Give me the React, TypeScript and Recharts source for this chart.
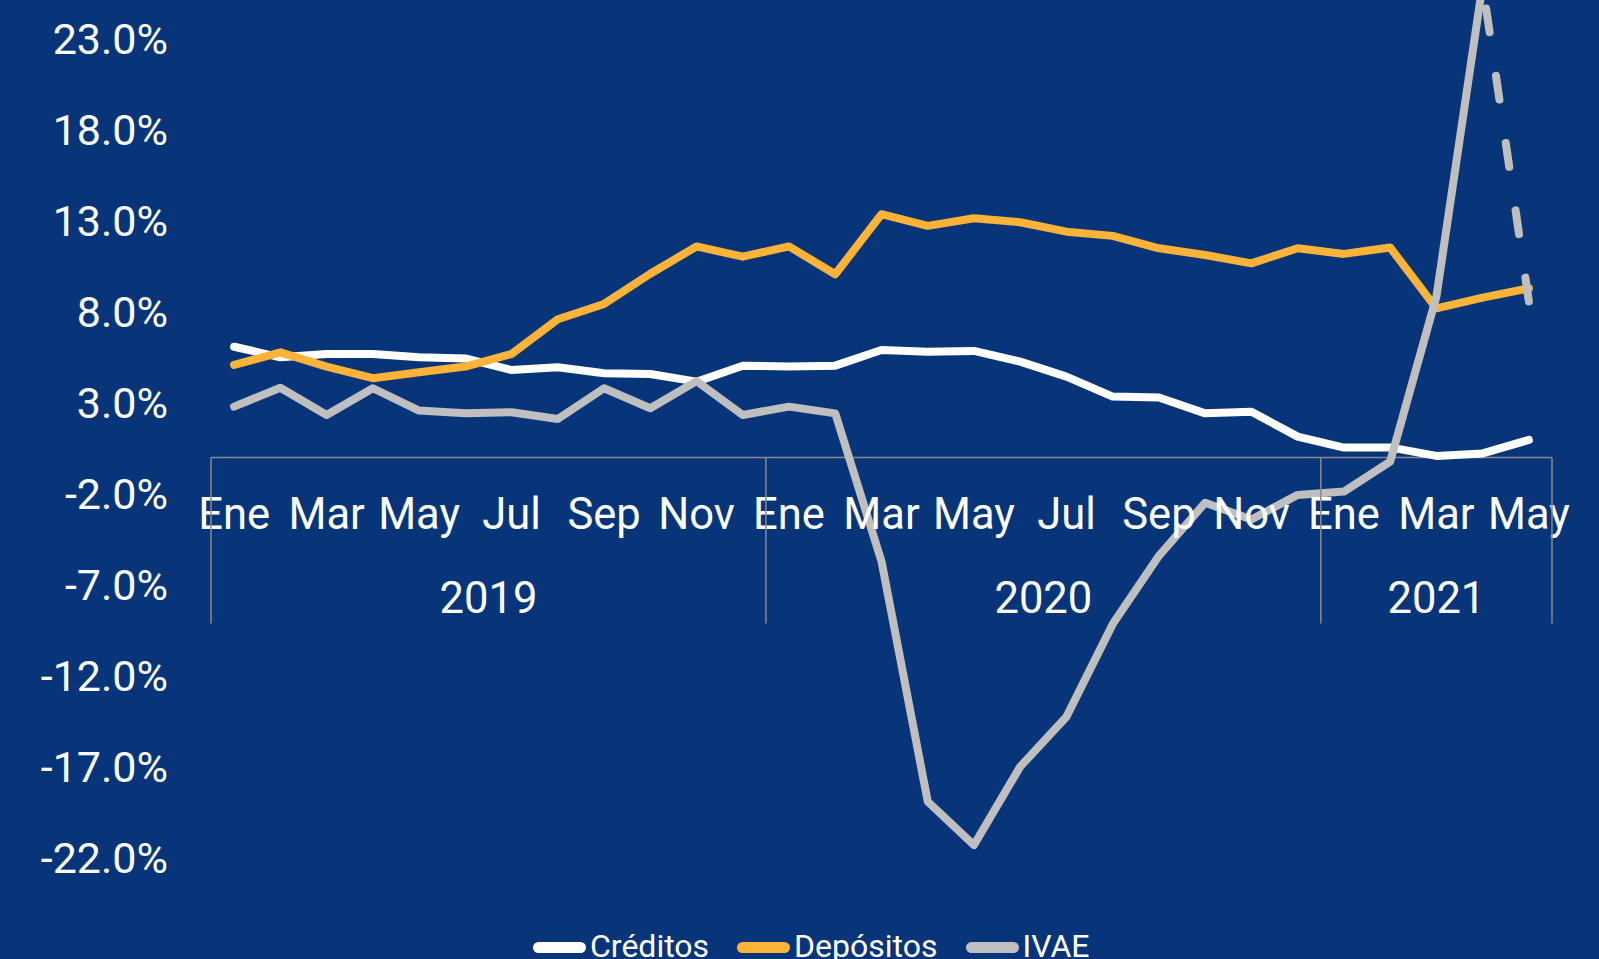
import React from 'react';
import { LineChart, Line, XAxis, YAxis, ReferenceLine, Legend } from 'recharts';

// meses de ene-2019 a may-2021
const categories = [
  'Ene 2019', 'Feb 2019', 'Mar 2019', 'Abr 2019', 'May 2019', 'Jun 2019',
  'Jul 2019', 'Ago 2019', 'Sep 2019', 'Oct 2019', 'Nov 2019', 'Dic 2019',
  'Ene 2020', 'Feb 2020', 'Mar 2020', 'Abr 2020', 'May 2020', 'Jun 2020',
  'Jul 2020', 'Ago 2020', 'Sep 2020', 'Oct 2020', 'Nov 2020', 'Dic 2020',
  'Ene 2021', 'Feb 2021', 'Mar 2021', 'Abr 2021', 'May 2021',
];

const creditos = [
  6.09, 5.51, 5.69, 5.69, 5.51, 5.45, 4.81, 4.96, 4.63, 4.59, 4.17, 5.05,
  5.0, 5.05, 5.91, 5.82, 5.86, 5.27, 4.45, 3.35, 3.3, 2.43, 2.52, 1.15,
  0.55, 0.56, 0.09, 0.23, 0.97,
];

const depositos = [
  5.09, 5.78, 5.0, 4.36, 4.69, 5.0, 5.69, 7.6, 8.44, 10.1, 11.6, 11.04,
  11.6, 10.07, 13.37, 12.73, 13.15, 12.93, 12.41, 12.18, 11.5, 11.13, 10.67, 11.5,
  11.19, 11.54, 8.2, 8.79, 9.3,
];

const ivae = [
  2.8, 3.84, 2.34, 3.81, 2.58, 2.43, 2.49, 2.12, 3.81, 2.71, 4.2, 2.34,
  2.8, 2.43, -5.7, -18.9, -21.29, -16.98, -14.24, -9.15, -5.4, -2.48, -3.4, -2.05,
  -1.87, -0.22, 8.84, 26.0, null,
];

// tramo proyectado (punteado)
const ivaeProy = [
  null, null, null, null, null, null, null, null, null, null, null, null,
  null, null, null, null, null, null, null, null, null, null, null, null,
  null, null, null, 26.0, 8.57,
];

const yTicks = [-22, -17, -12, -7, -2, 3, 8, 13, 18, 23];

const data = categories.map((cat, i) => ({
  cat,
  creditos: creditos[i],
  depositos: depositos[i],
  ivae: ivae[i],
  ivaeProy: ivaeProy[i],
}));

const W = 1599;
const H = 959;
const Y_AXIS_W = 211;
const RIGHT = 47;
const X_AXIS_H = 101;
const Y_MIN = -22;
const Y_MAX = 25.14;
const PLOT_W = W - Y_AXIS_W - RIGHT;
const PLOT_H = H - X_AXIS_H;
const BAND = PLOT_W / categories.length;
const ZERO_Y = (PLOT_H * Y_MAX) / (Y_MAX - Y_MIN);

const BG = '#08357a';
const GRID = '#8a8a8a';
const FONT = 'Roboto, sans-serif';

function MonthTick(props: any) {
  const { x, payload } = props;
  const i: number = props.index ?? payload.index;
  const [mes, anio] = categories[i].split(' ');
  const yearIdx = categories.map((c, k) => (c.endsWith(anio) ? k : -1)).filter((k) => k >= 0);
  const first = yearIdx[0];
  const count = yearIdx.length;
  return (
    <g>
      {i % 2 === 0 && (
        <text x={x} y={ZERO_Y + 71} textAnchor="middle" fill="#fff" fontSize={43.5} fontFamily={FONT}>
          {mes}
        </text>
      )}
      {i === first && (
        <>
          <line x1={x - BAND / 2} x2={x - BAND / 2} y1={ZERO_Y} y2={ZERO_Y + 166} stroke={GRID} strokeWidth={1.5} />
          <text
            x={x + ((count - 1) / 2) * BAND}
            y={ZERO_Y + 155}
            textAnchor="middle"
            fill="#fff"
            fontSize={43.5}
            fontFamily={FONT}
          >
            {anio}
          </text>
        </>
      )}
      {i === categories.length - 1 && (
        <line x1={x + BAND / 2} x2={x + BAND / 2} y1={ZERO_Y} y2={ZERO_Y + 166} stroke={GRID} strokeWidth={1.5} />
      )}
    </g>
  );
}

function renderLegend(props: any) {
  const items = (props.payload || []).filter((p: any) => p.type !== 'none');
  return (
    <div style={{ display: 'flex', alignItems: 'flex-start' }}>
      {items.map((p: any) => (
        <div key={p.value} style={{ display: 'flex', alignItems: 'flex-start', marginRight: 28 }}>
          <div style={{ width: 53, height: 11, borderRadius: 6, background: p.color, marginTop: 12, marginRight: 4 }} />
          <span style={{ color: '#fff', fontSize: 32, lineHeight: '32px', fontFamily: FONT }}>{p.value}</span>
        </div>
      ))}
    </div>
  );
}

export default function App() {
  return (
    <div style={{ position: 'absolute', left: 0, top: 0, width: W, height: H, background: BG, overflow: 'hidden' }}>
      <LineChart width={W} height={H} data={data} margin={{ top: 0, right: RIGHT, bottom: 0, left: 0 }}>
        <YAxis
          width={Y_AXIS_W}
          domain={[Y_MIN, Y_MAX]}
          allowDataOverflow
          ticks={yTicks}
          interval={0}
          axisLine={false}
          tickLine={false}
          tickSize={0}
          tickMargin={43}
          tick={{ fill: '#fff', fontSize: 43, fontFamily: FONT }}
          tickFormatter={(v: number) => `${v.toFixed(1)}%`}
        />
        <ReferenceLine y={0} stroke={GRID} strokeWidth={1.5} />
        <Line
          dataKey="creditos"
          name="Créditos"
          stroke="#ffffff"
          strokeWidth={8}
          strokeLinecap="round"
          strokeLinejoin="round"
          dot={false}
          isAnimationActive={false}
        />
        <Line
          dataKey="depositos"
          name="Depósitos"
          stroke="#fdb338"
          strokeWidth={8}
          strokeLinecap="round"
          strokeLinejoin="round"
          dot={false}
          isAnimationActive={false}
        />
        <Line
          dataKey="ivae"
          name="IVAE"
          stroke="#bfbfbf"
          strokeWidth={8}
          strokeLinecap="round"
          strokeLinejoin="round"
          dot={false}
          isAnimationActive={false}
        />
        <Line
          dataKey="ivaeProy"
          name="IVAE proyectado"
          legendType="none"
          stroke="#bfbfbf"
          strokeWidth={8}
          strokeLinecap="round"
          strokeDasharray="24 44"
          strokeDashoffset={43.6}
          dot={false}
          isAnimationActive={false}
        />
        <XAxis
          dataKey="cat"
          height={X_AXIS_H}
          interval={0}
          padding={{ left: BAND / 2, right: BAND / 2 }}
          axisLine={false}
          tickLine={false}
          tick={<MonthTick />}
        />
        <Legend
          verticalAlign="middle"
          align="center"
          layout="horizontal"
          wrapperStyle={{ top: 930, left: 533, width: 800, height: 40 }}
          content={renderLegend}
        />
      </LineChart>
    </div>
  );
}
